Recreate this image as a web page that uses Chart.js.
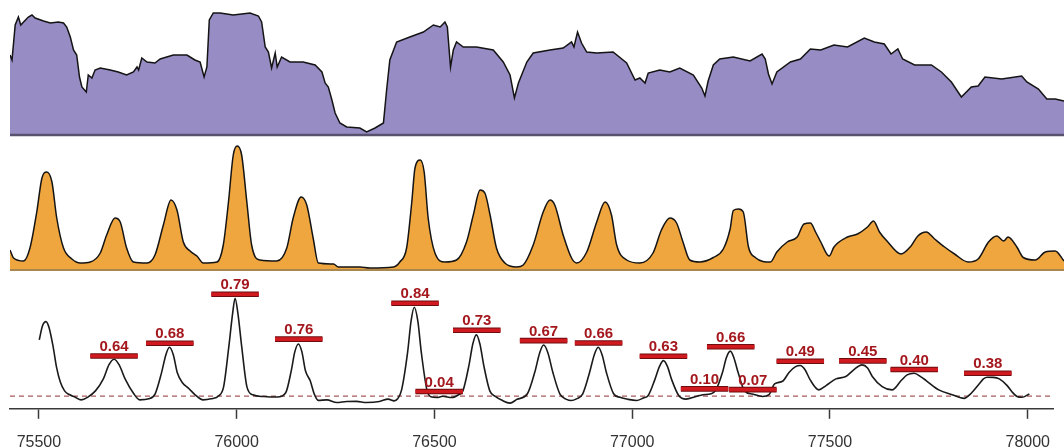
<!DOCTYPE html>
<html>
<head>
<meta charset="utf-8">
<script src="https://cdn.jsdelivr.net/npm/chart.js@4.4.1/dist/chart.umd.min.js"></script>
<style>
  html, body { margin: 0; padding: 0; background: #ffffff; overflow: hidden; width: 1064px; height: 448px; }
  canvas { position: absolute; left: 0; }
  #coverage { top: 0; }
  #signal { top: 136px; }
  #score { top: 270px; }
</style>
</head>
<body>
<canvas id="coverage" width="1064" height="137"></canvas>
<canvas id="signal" width="1064" height="136"></canvas>
<canvas id="score" width="1064" height="196"></canvas>
<script>
// Genomic window shared by all three tracks
const X_MIN = 75427, X_MAX = 78066;
const xTicks = [75500, 76000, 76500, 77000, 77500, 78000];

// Track 1: coverage profile
const coverageX = [75427,75432,75440,75448,75454,75461,75473,75482,75490,75511,
  75528,75548,75561,75569,75578,75586,75594,75601,75607,75618,
  75623,75632,75640,75653,75678,75698,75719,75736,75745,75749,
  75757,75770,75790,75803,75836,75870,75890,75903,75913,75920,
  75926,75936,75953,75986,76028,76049,76057,76066,76074,76082,
  76091,76096,76107,76128,76161,76191,76208,76216,76224,76233,
  76241,76253,76270,76303,76320,76341,76362,76370,76378,76395,
  76428,76462,76487,76504,76516,76522,76530,76537,76545,76562,
  76595,76637,76662,76679,76690,76700,76721,76737,76779,76812,
  76833,76839,76848,76858,76871,76896,76937,76971,76992,77004,
  77017,77025,77054,77079,77104,77138,77159,77167,77175,77188,
  77204,77238,77280,77310,77318,77326,77335,77347,77381,77406,
  77431,77457,77490,77524,77566,77591,77616,77633,77650,77662,
  77692,77734,77759,77784,77809,77834,77851,77868,77910,77960,
  77973,78002,78023,78044,78066];
const coverageY = [80,75,110,118,110,113,118,120,117,114,
  112,113,112,108,98,85,80,58,48,43,
  60,57,65,67,65,63,60,63,68,65,
  77,73,72,76,80,80,75,73,58,68,
  115,122,122,120,122,119,113,88,83,67,
  82,68,78,73,73,70,63,52,48,35,
  22,12,8,7,3,7,12,45,75,93,
  98,103,110,108,113,108,68,85,93,88,
  88,85,73,60,37,52,73,82,85,87,
  93,88,103,92,83,82,83,72,55,57,
  52,62,65,63,67,60,47,39,54,70,
  76,78,74,81,76,61,51,63,73,76,
  86,85,90,88,97,93,91,81,86,76,
  70,70,63,53,38,48,49,58,56,59,
  53,46,36,36,34];

// Track 2: signal profile
const signalX = [75427,75436,75461,75477,75494,75507,75519,75532,75544,75561,
  75582,75603,75628,75653,75669,75690,75703,75719,75736,75770,
  75790,75811,75830,75845,75861,75878,75895,75911,75945,75961,
  75974,75986,75996,76007,76020,76032,76053,76095,76120,76136,
  76156,76170,76186,76199,76237,76249,76303,76328,76387,76403,
  76420,76433,76441,76454,76464,76474,76491,76516,76545,76570,
  76587,76604,76616,76629,76645,76666,76696,76712,76737,76762,
  76779,76791,76812,76833,76846,76871,76896,76917,76933,76946,
  76971,77004,77037,77058,77079,77096,77112,77129,77154,77188,
  77213,77230,77238,77251,77263,77276,77293,77331,77347,77373,
  77398,77415,77431,77444,77457,77478,77490,77524,77549,77574,
  77589,77604,77625,77658,77683,77700,77721,77742,77767,77792,
  77826,77851,77877,77898,77915,77926,77948,77964,77994,78019,
  78044,78066];
const signalY = [20,12,9,22,58,92,98,88,52,22,
  11,7,8,17,35,52,48,22,8,7,
  15,45,70,60,28,19,14,7,8,25,
  68,115,124,115,68,25,10,9,22,52,
  73,65,32,7,6,3,3,2,3,8,
  22,68,102,110,98,52,17,8,10,28,
  55,80,77,55,22,7,3,5,25,58,
  70,65,35,12,7,18,48,68,55,25,
  10,7,17,40,52,47,28,10,8,12.5,
  21,41,59.5,61,58,23,12.5,8,18,28,
  33,46,47,38,28,14,23,33,36,43,
  49,38,28,16,24,34,38,31,23,16,
  8,11,28,34,29,33,23,12.5,10,18,
  19,9];

// Track 3: smoothed score with called peaks
const scoreX = [75501,75509,75518,75526,75536,75545,75554,75565,75578,75590,
  75607,75623,75643,75663,75677,75690,75703,75718,75740,75755,
  75778,75794,75810,75821,75830,75840,75850,75863,75878,75895,
  75915,75935,75955,75967,75980,75990,75996,76003,76013,76026,
  76041,76068,76103,76124,76138,76147,76156,76165,76174,76186,
  76196,76206,76228,76253,76278,76303,76328,76361,76383,76398,
  76407,76417,76432,76441,76449,76458,76467,76481,76491,76506,
  76521,76544,76561,76572,76587,76597,76606,76615,76625,76640,
  76654,76671,76691,76709,76735,76754,76766,76776,76787,76799,
  76817,76834,76846,76859,76875,76892,76904,76914,76924,76935,
  76953,76969,76989,77011,77029,77040,77057,77069,77079,77089,
  77100,77118,77136,77161,77179,77199,77211,77228,77238,77248,
  77257,77268,77284,77304,77329,77346,77360,77380,77397,77412,
  77425,77437,77450,77472,77490,77515,77540,77560,77581,77595,
  77607,77632,77657,77680,77695,77713,77730,77743,77775,77809,
  77839,77855,77877,77888,77898,77913,77928,77948,77960,77973,
  77985,78004];
const scoreY = [0.446,0.557,0.591,0.541,0.393,0.224,0.114,0.042,0.011,-0.005,
  -0.029,-0.009,0.042,0.137,0.248,0.293,0.248,0.137,0.019,-0.029,
  -0.021,0.019,0.185,0.327,0.388,0.327,0.185,0.106,0.064,0.011,
  -0.029,-0.021,0.003,0.074,0.387,0.660,0.776,0.660,0.387,0.074,
  0.011,-0.003,-0.007,0.027,0.201,0.351,0.414,0.351,0.201,0.122,
  0.019,-0.033,-0.029,-0.050,-0.042,-0.041,-0.050,-0.042,-0.023,-0.037,
  -0.021,0.050,0.343,0.596,0.705,0.596,0.343,0.050,-0.005,-0.011,
  -0.001,-0.011,0.011,0.042,0.240,0.414,0.486,0.414,0.240,0.042,
  -0.001,-0.033,-0.055,-0.025,0.019,0.193,0.343,0.406,0.343,0.193,
  0.019,-0.025,-0.034,-0.021,0.019,0.185,0.327,0.388,0.327,0.185,
  0.019,-0.009,-0.025,-0.034,-0.013,0.003,0.129,0.236,0.282,0.236,
  0.129,0.003,-0.023,-0.003,0.012,0.019,0.046,0.185,0.305,0.357,
  0.305,0.185,0.042,0.017,-0.003,0.012,0.097,0.118,0.190,0.232,
  0.243,0.209,0.129,0.050,0.084,0.137,0.156,0.209,0.248,0.224,
  0.156,0.076,0.050,0.124,0.169,0.182,0.153,0.124,0.050,0.012,
  -0.017,0.017,0.097,0.137,0.150,0.149,0.137,0.084,0.035,-0.003,
  -0.009,0.017];
const scoreThreshold = 0;

// Called peaks: centre, height of the marker, and peak score
const peakCenters = [75690,75831,75996,76157,76451,76512,76607,76776,76915,77079,77183,77249,77305,77425,77583,77713,77899];
const peakLevels  = [0.319,0.420,0.808,0.452,0.736,0.037,0.523,0.440,0.422,0.317,0.058,0.392,0.052,0.277,0.280,0.211,0.182];
const peakScores  = ['0.64','0.68','0.79','0.76','0.84','0.04','0.73','0.67','0.66','0.63','0.10','0.66','0.07','0.49','0.45','0.40','0.38'];
const PEAK_HALF_WIDTH = 60;

const FONT = '"Liberation Sans", Arial, Helvetica, sans-serif';

function points(xs, ys) { return xs.map((x, i) => ({ x: x, y: ys[i] })); }

function peakSegments() {
  const out = [];
  peakCenters.forEach((c, i) => {
    out.push({ x: c - PEAK_HALF_WIDTH, y: peakLevels[i] });
    out.push({ x: c + PEAK_HALF_WIDTH, y: peakLevels[i] });
    out.push({ x: c + PEAK_HALF_WIDTH, y: null });
  });
  return out;
}

// Line along the zero of a track
function baseline(color, width) {
  return {
    id: 'baseline',
    afterDatasetsDraw(chart) {
      const { ctx, chartArea: a, scales } = chart;
      const y0 = scales.y.getPixelForValue(0);
      ctx.save();
      ctx.strokeStyle = color;
      ctx.lineWidth = width;
      ctx.beginPath();
      ctx.moveTo(a.left, y0);
      ctx.lineTo(a.right, y0);
      ctx.stroke();
      ctx.restore();
    }
  };
}

// Score text above each peak marker
const peakLabelPlugin = {
  id: 'peakLabels',
  afterDatasetsDraw(chart) {
    const { ctx, scales } = chart;
    ctx.save();
    ctx.font = 'bold 15px ' + FONT;
    ctx.fillStyle = '#a3171d';
    ctx.textAlign = 'center';
    ctx.textBaseline = 'alphabetic';
    peakCenters.forEach((c, i) => {
      ctx.fillText(peakScores[i], scales.x.getPixelForValue(c), scales.y.getPixelForValue(peakLevels[i]) - 5);
    });
    ctx.restore();
  }
};

const hiddenX = { type: 'linear', min: X_MIN, max: X_MAX, display: false };
const common = {
  animation: false,
  responsive: false,
  events: [],
  plugins: { legend: { display: false }, tooltip: { enabled: false } },
  elements: { point: { radius: 0 } }
};

new Chart(document.getElementById('coverage'), {
  type: 'line',
  data: { datasets: [{
    data: points(coverageX, coverageY),
    borderColor: '#141414', borderWidth: 1.5,
    backgroundColor: '#978cc4', fill: 'origin', tension: 0
  }]},
  options: Object.assign({}, common, {
    layout: { padding: { left: 10, right: 0, top: 5, bottom: 2 } },
    scales: { x: hiddenX, y: { min: 0, max: 130, display: false } }
  }),
  plugins: [baseline('#58526f', 2.5)]
});

new Chart(document.getElementById('signal'), {
  type: 'line',
  data: { datasets: [{
    data: points(signalX, signalY),
    borderColor: '#141414', borderWidth: 1.5,
    backgroundColor: '#f0a63e', fill: 'origin',
    cubicInterpolationMode: 'monotone'
  }]},
  options: Object.assign({}, common, {
    layout: { padding: { left: 10, right: 0, top: 0, bottom: 2 } },
    scales: { x: hiddenX, y: { min: 0, max: 134, display: false } }
  }),
  plugins: [baseline('#a9874f', 2)]
});

new Chart(document.getElementById('score'), {
  type: 'line',
  data: { datasets: [
    { data: peakSegments(), borderColor: '#d01a1f', borderWidth: 3.6, borderCapStyle: 'butt', spanGaps: false, fill: false },
    { data: peakSegments(), borderColor: '#6e0d10', borderWidth: 5.6, borderCapStyle: 'butt', spanGaps: false, fill: false },
    { data: points(scoreX, scoreY), borderColor: '#1a1a1a', borderWidth: 1.6, fill: false, cubicInterpolationMode: 'monotone' },
    { data: [{ x: X_MIN, y: scoreThreshold }, { x: X_MAX, y: scoreThreshold }], borderColor: '#a65a5c', borderWidth: 1.3, borderDash: [5, 4], fill: false }
  ]},
  options: Object.assign({}, common, {
    layout: { padding: { left: 10, right: 0, top: 0, bottom: 0 } },
    scales: {
      x: {
        type: 'linear', min: X_MIN, max: X_MAX,
        afterBuildTicks: s => { s.ticks = xTicks.map(v => ({ value: v })); },
        grid: { display: true, drawOnChartArea: false, drawTicks: true, tickLength: 10, tickColor: '#3a3a3a', tickWidth: 1.5 },
        border: { display: true, color: '#3a3a3a', width: 1.5 },
        ticks: {
          autoSkip: false, maxRotation: 0, padding: 14, color: '#333333',
          font: { family: FONT, size: 16 },
          callback: v => String(v)
        }
      },
      y: { min: -0.1, max: 1.0, display: false }
    }
  }),
  plugins: [peakLabelPlugin]
});
</script>
</body>
</html>
